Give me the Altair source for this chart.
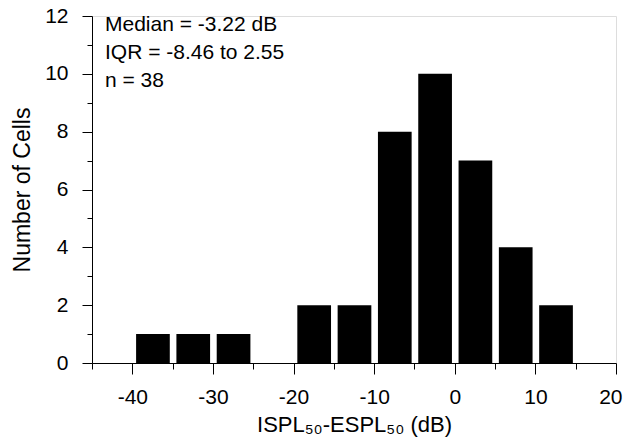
import altair as alt
import pandas as pd

bin_start = [-40, -35, -30, -25, -20, -15, -10, -5, 0, 5, 10]
bin_width = 5
counts = [1, 1, 1, 0, 2, 2, 8, 10, 7, 4, 2]
x_tick_values = list(range(-45, 21, 5))
y_tick_values = list(range(0, 13, 1))
annotation_lines = ["Median = -3.22 dB", "IQR = -8.46 to 2.55", "n = 38"]
x_title = "ISPL₅₀-ESPL₅₀ (dB)"
y_title = "Number of Cells"

df = pd.DataFrame({"start": bin_start, "count": counts})
df["end"] = df["start"] + bin_width

FONT = "Liberation Sans"
LFS = 21
TFS = 22

x_scale = alt.Scale(domain=[-45, 20], nice=False, zero=False)
y_scale = alt.Scale(domain=[0, 12], nice=False)

x_axis = alt.Axis(
    values=x_tick_values,
    labelExpr="datum.value % 10 === 0 ? '' + datum.value : ''",
    tickSize={"condition": {"test": "datum.value % 10 === 0", "value": 11}, "value": 6},
    grid=False, domainColor="black", tickColor="black", labelColor="black",
    labelFont=FONT, labelFontSize=LFS, labelPadding=12, labelFlush=True, labelFlushOffset=6,
    labelOverlap=False,
    titleFont=FONT, titleFontSize=TFS, titleFontWeight="normal", titleColor="black",
    titlePadding=7, domainWidth=1, tickWidth=1,
)
y_axis = alt.Axis(
    values=y_tick_values,
    labelExpr="datum.value % 2 === 0 ? '' + datum.value : ''",
    tickSize={"condition": {"test": "datum.value % 2 === 0", "value": 10}, "value": 5},
    grid=False, domainColor="black", tickColor="black", labelColor="black",
    labelFont=FONT, labelFontSize=LFS, labelPadding=14, labelFlush=False, labelOverlap=False,
    titleFont=FONT, titleFontSize=TFS + 1, titleFontWeight="normal", titleColor="black",
    titlePadding=10, domainWidth=1, tickWidth=1,
)

bars = alt.Chart(df).transform_calculate(
    x_lo="datum.start + 0.47", x_hi="datum.start + 4.65"
).mark_bar(color="black").encode(
    x=alt.X("x_lo:Q", scale=x_scale, axis=x_axis, title=x_title),
    x2="x_hi:Q",
    y=alt.Y("count:Q", scale=y_scale, axis=y_axis, title=y_title),
    y2=alt.datum(0),
)

ann = alt.Chart(pd.DataFrame({"t": ["\n".join(annotation_lines)]})).mark_text(
    align="left", baseline="top", font=FONT, fontSize=LFS, lineBreak="\n",
    lineHeight=28, color="black",
).encode(x=alt.value(13), y=alt.value(-2), text="t:N")

chart = alt.layer(bars, ann).properties(
    width=524, height=347,
    autosize=alt.AutoSizeParams(type="none"),
    padding={"left": 84, "top": 8, "right": 7, "bottom": 76},
).configure_view(stroke=None).configure(background="white")

chart.save("out.html", embed_options={"renderer": "svg", "actions": False})
